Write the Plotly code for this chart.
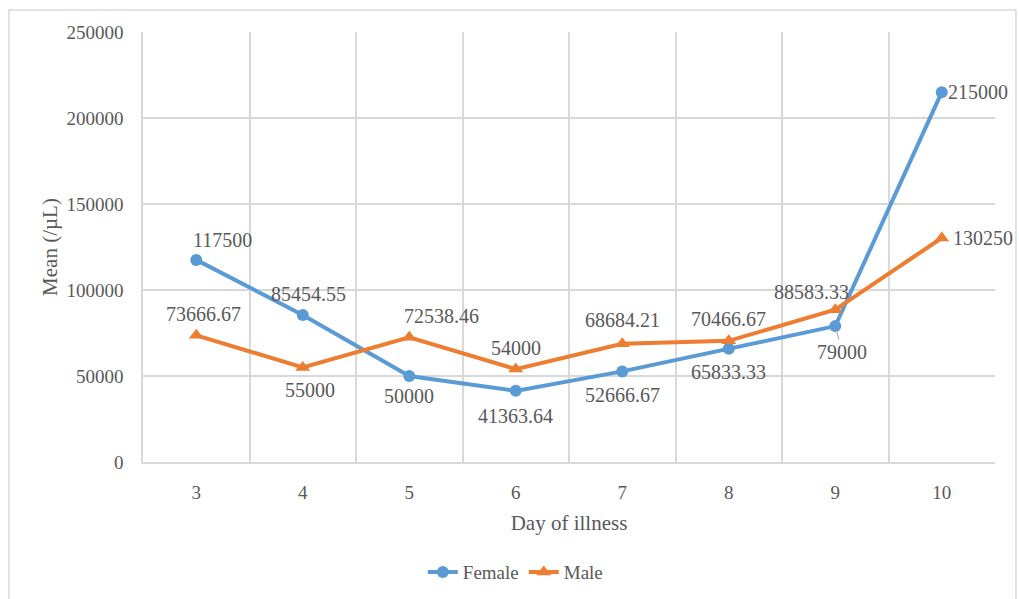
import plotly.graph_objects as go

days = ["3", "4", "5", "6", "7", "8", "9", "10"]
female = [117500, 85454.55, 50000, 41363.64, 52666.67, 65833.33, 79000, 215000]
male = [73666.67, 55000, 72538.46, 54000, 68684.21, 70466.67, 88583.33, 130250]
female_labels = ["117500", "85454.55", "50000", "41363.64", "52666.67", "65833.33", "79000", "215000"]
male_labels = ["73666.67", "55000", "72538.46", "54000", "68684.21", "70466.67", "88583.33", "130250"]

# label pixel offsets (style)
f_shift = [(26, 20), (6, 21), (0, -20), (0, -25), (0, -24), (0, -23), (7, -26), (36, 0)]
m_shift = [(7, 21), (7, -23), (32, 21), (0, 21), (0, 24), (0, 22), (-24, 18), (41, 0)]

BLUE = "#5B9BD5"
ORANGE = "#ED7D31"
GRID = "#D9D9D9"
TXT = "#595959"
FONT = "Liberation Serif"

fig = go.Figure()
fig.add_trace(go.Scatter(x=days, y=female, name="Female", mode="lines+markers",
                         line=dict(color=BLUE, width=4),
                         marker=dict(symbol="circle", size=12, color=BLUE)))
fig.add_trace(go.Scatter(x=days, y=male, name="Male", mode="lines+markers",
                         line=dict(color=ORANGE, width=4),
                         marker=dict(symbol="triangle-up", size=13, color=ORANGE)))

anns = []
for i, (v, t) in enumerate(zip(female, female_labels)):
    dx, dy = f_shift[i]
    if t == "79000":
        anns.append(dict(x=i, y=v, text=t, showarrow=True, arrowhead=0, arrowwidth=1,
                         arrowcolor="#A6A6A6", ax=dx, ay=-dy, standoff=4,
                         font=dict(family=FONT, size=20, color=TXT)))
    else:
        anns.append(dict(x=i, y=v, text=t, showarrow=False, xshift=dx, yshift=dy,
                         font=dict(family=FONT, size=20, color=TXT)))
for i, (v, t) in enumerate(zip(male, male_labels)):
    dx, dy = m_shift[i]
    anns.append(dict(x=i, y=v, text=t, showarrow=False, xshift=dx, yshift=dy,
                     font=dict(family=FONT, size=20, color=TXT)))

fig.update_layout(
    width=1019, height=599,
    margin=dict(l=143, r=24, t=32, b=137),
    paper_bgcolor="white", plot_bgcolor="white",
    font=dict(family=FONT, size=19, color=TXT),
    showlegend=True,
    legend=dict(orientation="h", x=0.437, xanchor="center",
                yref="container", y=0.045, yanchor="middle",
                font=dict(family=FONT, size=19, color=TXT),
                tracegroupgap=0),
    annotations=anns,
    shapes=[dict(type="rect", xref="paper", yref="paper",
                 x0=-0.1573, x1=1.0246, y0=-0.36, y1=1.0512,
                 line=dict(color=GRID, width=1.5), layer="below")],
)
fig.update_xaxes(type="category", range=[-0.5, len(days) - 0.5], automargin=False,
                 tickson="boundaries", showgrid=True, gridcolor=GRID,
                 gridwidth=1.5, ticks="", ticklabelstandoff=12,
                 showline=True, linecolor=GRID, linewidth=1.5,
                 tickfont=dict(family=FONT, size=19, color=TXT),
                 title=dict(text="Day of illness", standoff=14,
                            font=dict(family=FONT, size=21, color=TXT)))
fig.update_yaxes(range=[0, 250000], dtick=50000, showgrid=True, gridcolor=GRID, gridwidth=1.5,
                 automargin=False,
                 zeroline=False, showline=True, linecolor=GRID, linewidth=1.5,
                 ticks="outside", ticklen=14, tickcolor="rgba(0,0,0,0)",
                 tickformat="d",
                 tickfont=dict(family=FONT, size=19, color=TXT),
                 title=dict(text="Mean (/µL)", standoff=3,
                            font=dict(family=FONT, size=21, color=TXT)))

fig.write_html("out.html", config={"displayModeBar": False},
               post_script="document.body.style.margin='0';document.body.style.overflow='hidden';")
